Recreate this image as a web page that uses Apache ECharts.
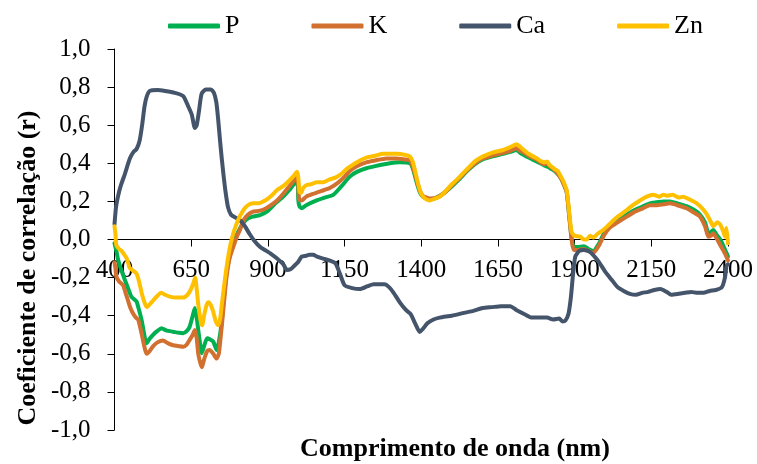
<!DOCTYPE html>
<html lang="pt">
<head>
    <meta charset="UTF-8">
    <title>Coeficiente de correlação</title>
    <script src="https://cdn.jsdelivr.net/npm/echarts@6/dist/echarts.min.js"></script>
    <style>
        html, body { margin: 0; padding: 0; background: #fff; }
        #chart1 { width: 757px; height: 464px; }
    </style>
</head>
<body>
    <div id="chart1"></div>
    <script type="text/javascript">
        // comprimentos de onda (nm) e r
        var waveP = [400, 406, 412, 422, 434, 445, 455, 465, 472, 480, 488, 496, 504, 515, 526, 540, 553, 570, 591, 610, 624, 636, 645, 655, 662, 668, 673, 680, 684, 692, 702, 712, 722, 733, 740, 749, 757, 765, 775, 787, 800, 815, 830, 850, 874, 900, 928, 950, 970, 985, 997, 999, 1003, 1010, 1025, 1059, 1085, 1113, 1140, 1167, 1190, 1221, 1250, 1297, 1330, 1363, 1373, 1385, 1395, 1405, 1428, 1450, 1475, 1500, 1526, 1550, 1575, 1600, 1630, 1667, 1690, 1711, 1722, 1750, 1776, 1800, 1819, 1835, 1852, 1862, 1874, 1882, 1890, 1897, 1910, 1930, 1945, 1961, 1980, 1995, 2013, 2040, 2070, 2095, 2124, 2145, 2167, 2190, 2211, 2235, 2265, 2290, 2309, 2325, 2336, 2345, 2352, 2365, 2375, 2384, 2392, 2400];
        var valP = [-0.02, -0.06, -0.108, -0.16, -0.213, -0.26, -0.30, -0.315, -0.326, -0.37, -0.42, -0.49, -0.545, -0.52, -0.50, -0.48, -0.466, -0.478, -0.484, -0.49, -0.492, -0.48, -0.458, -0.40, -0.36, -0.41, -0.475, -0.56, -0.597, -0.56, -0.519, -0.525, -0.536, -0.58, -0.54, -0.44, -0.30, -0.177, -0.09, -0.02, 0.03, 0.075, 0.105, 0.12, 0.128, 0.15, 0.195, 0.225, 0.26, 0.29, 0.30, 0.21, 0.175, 0.164, 0.18, 0.205, 0.22, 0.234, 0.28, 0.33, 0.355, 0.374, 0.385, 0.40, 0.405, 0.40, 0.37, 0.30, 0.25, 0.225, 0.21, 0.22, 0.245, 0.28, 0.32, 0.36, 0.395, 0.42, 0.435, 0.45, 0.46, 0.47, 0.455, 0.43, 0.41, 0.39, 0.375, 0.36, 0.33, 0.30, 0.25, 0.13, 0.01, -0.04, -0.04, -0.035, -0.05, -0.06, -0.02, 0.03, 0.065, 0.10, 0.13, 0.155, 0.175, 0.19, 0.195, 0.20, 0.20, 0.19, 0.175, 0.155, 0.13, 0.09, 0.035, 0.04, 0.05, 0.02, 0.0, -0.03, -0.06, -0.09];

        var waveK = [400, 403, 406, 415, 428, 436, 444, 452, 461, 470, 477, 485, 493, 500, 505, 515, 526, 540, 558, 575, 591, 610, 624, 636, 645, 655, 662, 668, 673, 680, 685, 692, 702, 710, 722, 733, 740, 745, 750, 757, 765, 775, 787, 800, 809, 820, 835, 850, 870, 890, 910, 930, 950, 970, 985, 995, 999, 1002, 1010, 1025, 1048, 1075, 1102, 1130, 1150, 1167, 1190, 1221, 1250, 1287, 1320, 1345, 1363, 1373, 1385, 1395, 1405, 1428, 1450, 1475, 1500, 1526, 1550, 1575, 1600, 1630, 1667, 1690, 1711, 1722, 1735, 1750, 1776, 1800, 1810, 1819, 1835, 1852, 1862, 1874, 1882, 1890, 1897, 1910, 1930, 1945, 1961, 1980, 1995, 2013, 2040, 2070, 2095, 2124, 2145, 2167, 2190, 2211, 2235, 2265, 2290, 2309, 2325, 2336, 2345, 2352, 2365, 2375, 2384, 2392, 2400];
        var valK = [-0.12, -0.15, -0.195, -0.22, -0.24, -0.28, -0.32, -0.36, -0.39, -0.41, -0.42, -0.47, -0.53, -0.58, -0.60, -0.585, -0.56, -0.54, -0.53, -0.545, -0.555, -0.56, -0.563, -0.55, -0.527, -0.50, -0.475, -0.52, -0.60, -0.65, -0.67, -0.63, -0.585, -0.58, -0.60, -0.625, -0.60, -0.53, -0.45, -0.33, -0.20, -0.10, -0.04, 0.02, 0.05, 0.10, 0.13, 0.145, 0.15, 0.16, 0.18, 0.205, 0.24, 0.28, 0.31, 0.33, 0.29, 0.21, 0.205, 0.225, 0.24, 0.255, 0.27, 0.30, 0.33, 0.36, 0.385, 0.405, 0.415, 0.425, 0.425, 0.42, 0.415, 0.38, 0.312, 0.26, 0.23, 0.215, 0.22, 0.245, 0.285, 0.325, 0.365, 0.40, 0.425, 0.44, 0.455, 0.465, 0.48, 0.465, 0.455, 0.44, 0.42, 0.395, 0.40, 0.385, 0.365, 0.33, 0.30, 0.25, 0.13, 0.0, -0.055, -0.055, -0.05, -0.06, -0.07, -0.03, 0.02, 0.06, 0.09, 0.12, 0.145, 0.165, 0.18, 0.18, 0.185, 0.19, 0.18, 0.164, 0.14, 0.12, 0.07, 0.015, 0.02, 0.033, 0.0, -0.03, -0.055, -0.08, -0.11];

        var waveCa = [400, 405, 412, 420, 434, 450, 462, 472, 482, 490, 498, 505, 515, 540, 565, 597, 624, 640, 652, 662, 668, 675, 684, 698, 714, 724, 732, 738, 744, 750, 756, 762, 770, 780, 795, 810, 825, 840, 855, 875, 890, 910, 930, 950, 962, 975, 985, 1000, 1010, 1025, 1035, 1048, 1060, 1080, 1100, 1120, 1135, 1150, 1175, 1200, 1225, 1245, 1260, 1280, 1295, 1310, 1330, 1350, 1365, 1380, 1395, 1405, 1420, 1440, 1460, 1500, 1540, 1570, 1600, 1630, 1660, 1690, 1710, 1740, 1760, 1790, 1810, 1830, 1850, 1860, 1870, 1880, 1888, 1895, 1902, 1915, 1930, 1950, 1965, 1980, 2000, 2020, 2040, 2060, 2080, 2100, 2120, 2140, 2160, 2180, 2200, 2215, 2240, 2260, 2280, 2300, 2320, 2340, 2360, 2380, 2390, 2395, 2400];
        var valCa = [0.08, 0.17, 0.23, 0.28, 0.345, 0.425, 0.46, 0.475, 0.52, 0.60, 0.70, 0.75, 0.78, 0.785, 0.78, 0.77, 0.753, 0.70, 0.655, 0.585, 0.60, 0.67, 0.765, 0.788, 0.788, 0.77, 0.72, 0.63, 0.52, 0.42, 0.33, 0.25, 0.17, 0.13, 0.115, 0.10, 0.07, 0.03, -0.005, -0.04, -0.055, -0.075, -0.10, -0.13, -0.16, -0.155, -0.14, -0.115, -0.09, -0.085, -0.08, -0.08, -0.09, -0.10, -0.11, -0.125, -0.18, -0.24, -0.255, -0.26, -0.245, -0.235, -0.235, -0.235, -0.25, -0.28, -0.33, -0.37, -0.39, -0.44, -0.485, -0.47, -0.44, -0.42, -0.41, -0.40, -0.385, -0.375, -0.36, -0.355, -0.35, -0.35, -0.37, -0.395, -0.41, -0.41, -0.41, -0.42, -0.415, -0.43, -0.425, -0.39, -0.30, -0.18, -0.09, -0.06, -0.055, -0.065, -0.09, -0.12, -0.17, -0.21, -0.25, -0.27, -0.285, -0.29, -0.28, -0.275, -0.265, -0.26, -0.275, -0.29, -0.285, -0.28, -0.275, -0.28, -0.28, -0.27, -0.265, -0.25, -0.20, -0.14, -0.13];

        var waveZn = [400, 403, 406, 415, 423, 432, 440, 450, 462, 472, 480, 490, 500, 506, 515, 526, 540, 553, 565, 580, 600, 624, 638, 648, 657, 663, 668, 673, 680, 686, 692, 700, 706, 714, 722, 730, 738, 745, 750, 756, 765, 775, 785, 795, 805, 815, 825, 840, 855, 870, 885, 900, 915, 930, 950, 970, 985, 995, 999, 1003, 1008, 1015, 1025, 1040, 1060, 1080, 1100, 1120, 1140, 1160, 1180, 1200, 1221, 1250, 1276, 1300, 1320, 1345, 1363, 1372, 1380, 1390, 1400, 1412, 1428, 1445, 1461, 1480, 1500, 1526, 1550, 1575, 1600, 1630, 1667, 1690, 1711, 1720, 1732, 1750, 1776, 1800, 1810, 1819, 1835, 1845, 1852, 1862, 1874, 1882, 1890, 1900, 1918, 1930, 1940, 1950, 1961, 1975, 1993, 2010, 2026, 2045, 2070, 2090, 2113, 2135, 2156, 2175, 2190, 2200, 2220, 2240, 2254, 2275, 2298, 2315, 2330, 2342, 2352, 2365, 2374, 2385, 2390, 2395, 2400];
        var valZn = [0.07, 0.03, -0.03, -0.05, -0.06, -0.08, -0.10, -0.15, -0.165, -0.18, -0.22, -0.29, -0.34, -0.355, -0.34, -0.32, -0.295, -0.28, -0.29, -0.30, -0.305, -0.305, -0.29, -0.265, -0.23, -0.20, -0.26, -0.34, -0.42, -0.45, -0.40, -0.345, -0.33, -0.345, -0.38, -0.43, -0.45, -0.41, -0.34, -0.26, -0.15, -0.05, 0.02, 0.07, 0.11, 0.14, 0.165, 0.185, 0.19, 0.19, 0.20, 0.215, 0.235, 0.26, 0.28, 0.31, 0.335, 0.355, 0.33, 0.25, 0.245, 0.27, 0.285, 0.29, 0.30, 0.30, 0.315, 0.325, 0.345, 0.375, 0.395, 0.415, 0.43, 0.44, 0.45, 0.45, 0.45, 0.445, 0.435, 0.41, 0.36, 0.29, 0.24, 0.215, 0.205, 0.215, 0.225, 0.255, 0.29, 0.33, 0.37, 0.41, 0.435, 0.455, 0.47, 0.485, 0.50, 0.49, 0.473, 0.45, 0.426, 0.405, 0.41, 0.39, 0.37, 0.36, 0.34, 0.31, 0.26, 0.15, 0.04, 0.02, 0.015, 0.0, 0.0, 0.02, 0.01, 0.03, 0.05, 0.075, 0.10, 0.125, 0.155, 0.18, 0.205, 0.225, 0.235, 0.225, 0.235, 0.23, 0.235, 0.22, 0.225, 0.21, 0.19, 0.165, 0.135, 0.10, 0.07, 0.09, 0.08, 0.04, 0.015, 0.06, -0.02];

        var xTicks = [400, 650, 900, 1150, 1400, 1650, 1900, 2150, 2400];
        var yTicks = [-1.0, -0.8, -0.6, -0.4, -0.2, 0.0, 0.2, 0.4, 0.6, 0.8, 1.0];

        var xStart = xTicks[0];
        var xStep = xTicks[1] - xTicks[0];

        // eixo x deslocado para começar em 0 (marcas a cada 250 nm a partir de 400)
        function pares(wave, val) {
            var arr = [];
            for (var i = 0; i < wave.length; i++) {
                arr.push([wave[i] - xStart, val[i]]);
            }
            return arr;
        }

        var fonte = '"Liberation Serif", "Times New Roman", serif';

        var gridTop = 49, gridBottom = 34;
        // a linha do eixo x fica em r = 0 (meio da área, pois o eixo y vai de -1 a 1)
        var alturaArea = 464 - gridTop - gridBottom;
        var yMin = yTicks[0], yMax = yTicks[yTicks.length - 1];
        var deslocX = -alturaArea * (0 - yMin) / (yMax - yMin);

        function serie(nome, cor, wave, val) {
            return {
                name: nome,
                type: 'line',
                data: pares(wave, val),
                showSymbol: false,
                smooth: 0.2,
                lineStyle: { color: cor, width: 4, cap: 'round', join: 'round' },
                itemStyle: { color: cor },
                animation: false
            };
        }

        var chart1 = echarts.init(document.getElementById('chart1'));

        var option = {
            backgroundColor: '#fff',
            textStyle: { fontFamily: fonte },
            grid: { left: 114.5, right: 29, top: gridTop, bottom: gridBottom, containLabel: false, outerBoundsMode: 'none' },
            legend: {
                left: 168,
                top: 13,
                padding: 0,
                icon: 'roundRect',
                itemWidth: 52,
                itemHeight: 5,
                itemGap: 72,
                textStyle: { fontFamily: fonte, fontSize: 26, color: '#000' },
                data: ['P', 'K', 'Ca', 'Zn']
            },
            xAxis: {
                type: 'value',
                position: 'bottom',
                offset: deslocX,
                min: 0,
                max: xTicks[xTicks.length - 1] - xStart,
                interval: xStep,
                axisLine: { show: true, onZero: false, lineStyle: { color: '#000', width: 1 } },
                axisTick: { show: true, inside: false, length: 7, lineStyle: { color: '#000' } },
                splitLine: { show: false },
                axisLabel: {
                    margin: 18,
                    fontFamily: fonte,
                    fontSize: 25,
                    color: '#000',
                    showMinLabel: true,
                    showMaxLabel: true,
                    hideOverlap: false,
                    formatter: function (v) { return String(v + xStart); }
                }
            },
            yAxis: {
                type: 'value',
                min: yMin,
                max: yMax,
                interval: 0.2,
                axisLine: { show: true, onZero: false, lineStyle: { color: '#000', width: 1 } },
                axisTick: { show: true, length: 7, lineStyle: { color: '#000' } },
                splitLine: { show: false },
                axisLabel: {
                    margin: 24,
                    fontFamily: fonte,
                    fontSize: 25,
                    color: '#000',
                    formatter: function (v) { return v.toFixed(1).replace('.', ','); }
                }
            },
            graphic: [{
                type: 'text',
                x: 455,
                y: 449,
                style: {
                    text: 'Comprimento de onda (nm)',
                    font: 'bold 26px ' + fonte,
                    fill: '#000',
                    textAlign: 'center',
                    textVerticalAlign: 'middle'
                }
            }, {
                type: 'text',
                x: 28,
                y: 268,
                rotation: Math.PI / 2,
                style: {
                    text: 'Coeficiente de correlação (r)',
                    font: 'bold 26px ' + fonte,
                    fill: '#000',
                    textAlign: 'center',
                    textVerticalAlign: 'middle'
                }
            }],
            series: [
                serie('P', '#00B050', waveP, valP),
                serie('K', '#D2702F', waveK, valK),
                serie('Ca', '#44546A', waveCa, valCa),
                serie('Zn', '#FFC000', waveZn, valZn)
            ]
        };

        chart1.setOption(option);
    </script>
</body>
</html>
